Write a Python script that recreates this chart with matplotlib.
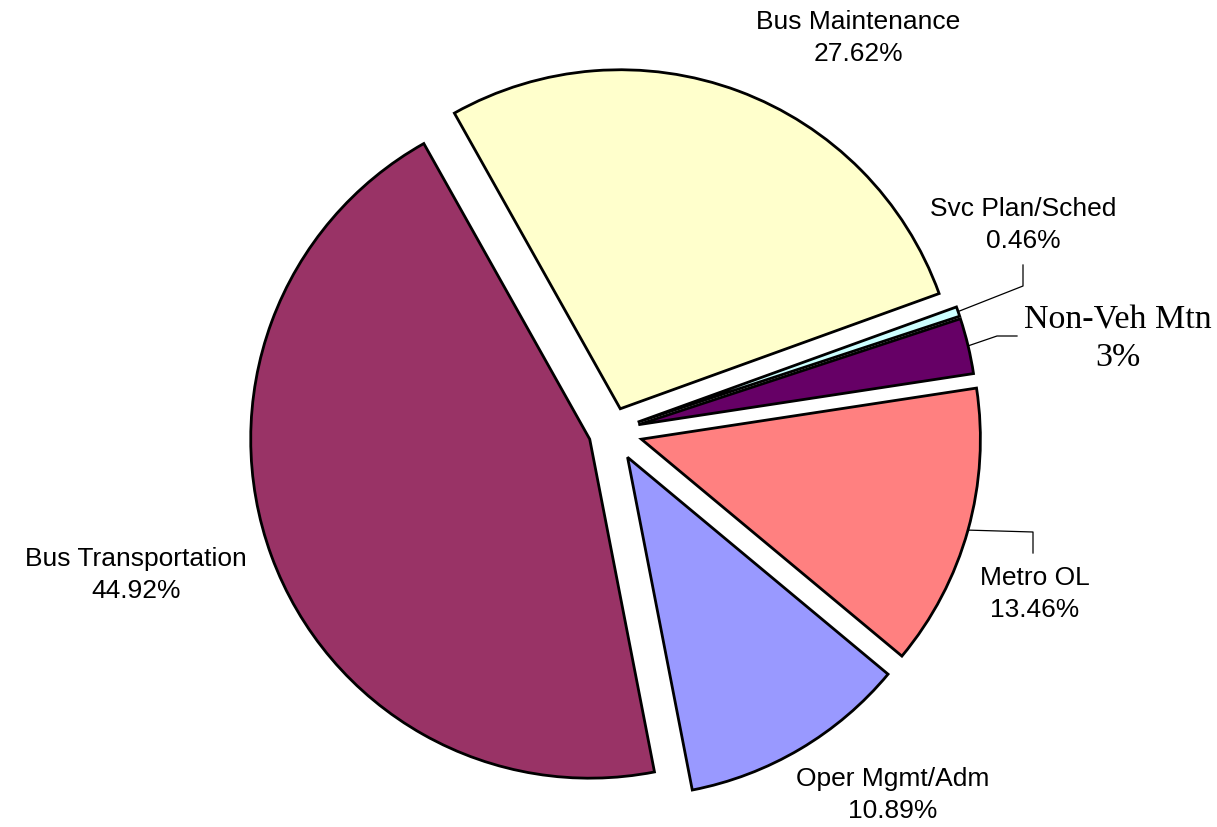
import numpy as np
import matplotlib
matplotlib.use('Agg')
import matplotlib.pyplot as plt

# ── Data ──────────────────────────────────────────────────────────────────────
categories = ['Bus Maintenance', 'Svc Plan/Sched', 'Non-Veh Mtn',
              'Metro OL', 'Oper Mgmt/Adm', 'Bus Transportation']
shares = [27.62, 0.46, 2.65, 13.46, 10.89, 44.92]
share_labels = ['27.62%', '0.46%', '3%', '13.46%', '10.89%', '44.92%']

colors = ['#FFFFCC', '#CCFFFF', '#660066', '#FF8080', '#9999FF', '#993366']
explode = [0.07, 0.08, 0.08, 0.09, 0.09, 0.07]

# ── Layout (pixel based, figure is 1217 x 828) ───────────────────────────────
W, H = 1217, 828
R_PX = 339
CX, CY = 612, 432


def px(x, y):
    """pixel position -> data coords (pie radius = 1)"""
    return (x - CX) / R_PX, (CY - y) / R_PX


fig = plt.figure(figsize=(W / 100, H / 100), dpi=100)
ax = fig.add_axes([0, 0, 1, 1])

wedges, _ = ax.pie(shares, colors=colors, explode=explode, startangle=119.3,
                   counterclock=False, radius=1.0,
                   wedgeprops=dict(edgecolor='black', linewidth=2.0))

# pie() resets the limits, so set them afterwards
ax.set_xlim(-CX / R_PX, (W - CX) / R_PX)
ax.set_ylim(-(H - CY) / R_PX, CY / R_PX)
ax.set_aspect('equal')
ax.axis('off')

# label positions (text block centres) in pixels
label_pos = {
    'Bus Maintenance': (858, 38),
    'Svc Plan/Sched': (1023, 225),
    'Non-Veh Mtn': (1118, 339),
    'Metro OL': (1035, 594),
    'Oper Mgmt/Adm': (893, 795),
    'Bus Transportation': (136, 575),
}

for name, pct in zip(categories, share_labels):
    x, y = px(*label_pos[name])
    if name == 'Non-Veh Mtn':
        ax.text(x, y, f'{name}\n{pct}', ha='center', va='center',
                family='Liberation Serif', fontsize=24.5, linespacing=1.3)
    else:
        ax.text(x, y, f'{name}\n{pct}', ha='center', va='center',
                family='Liberation Sans', fontsize=19, linespacing=1.45)

# leader lines: start on the wedge rim at its mid angle, then elbow to label
elbows = {
    'Svc Plan/Sched': [(1023, 287), (1023, 266)],
    'Non-Veh Mtn': [(997, 337), (1017, 337)],
    'Metro OL': [(1033, 533), (1033, 554)],
}
for w, name in zip(wedges, categories):
    if name not in elbows:
        continue
    mid = np.deg2rad((w.theta1 + w.theta2) / 2)
    cx, cy = w.center
    pts = [(cx + np.cos(mid), cy + np.sin(mid))] + [px(*p) for p in elbows[name]]
    xs, ys = zip(*pts)
    ax.plot(xs, ys, color='black', linewidth=0.9)

fig.savefig('out.png', dpi=100)
